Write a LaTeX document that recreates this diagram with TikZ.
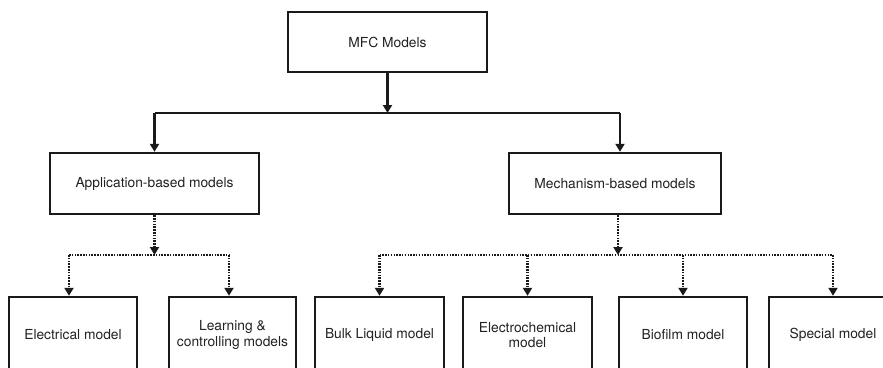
\documentclass[tikz,border=0pt]{standalone}
\usepackage{fontspec}
\setmainfont{TeX Gyre Heros}
\usetikzlibrary{arrows.meta,calc}
\definecolor{ink}{HTML}{1A1A1A}
\definecolor{txt}{HTML}{222222}
\begin{document}
\begin{tikzpicture}[x=1pt,y=-1pt,
  box/.style={draw=ink,line width=2.4pt,fill=white,inner sep=0pt,align=center,
    text=txt,font=\fontsize{13.8}{15.5}\selectfont},
  solidarrow/.style={draw=ink,line width=2.2pt,-{Triangle[width=9pt,length=8pt]}},
  solidline/.style={draw=ink,line width=2.2pt},
  dotline/.style={draw=ink,line width=2.2pt,dash pattern=on 1.5pt off 1.3pt},
  dotarrow/.style={dotline,-{Triangle[width=9pt,length=8pt]}}]
\useasboundingbox (0,0) rectangle (883,367);
\clip (0,0) rectangle (883,367);
% nodes
\node[box,minimum width=199pt,minimum height=60pt] (top) at (387.5,42) {MFC Models};
\node[box,minimum width=209pt,minimum height=61pt] (app) at (154.5,183.5) {Application-based models};
\node[box,minimum width=212pt,minimum height=61pt] (mech) at (615,183.5) {Mechanism-based models};
\node[box,minimum width=128pt,minimum height=76pt] (elec) at (73,335) {Electrical model};
\node[box,minimum width=127pt,minimum height=76pt] (learn) at (232.5,335) {Learning \&\\controlling models};
\node[box,minimum width=129pt,minimum height=76pt] (bulk) at (379.5,335) {Bulk Liquid model};
\node[box,minimum width=129pt,minimum height=76pt] (echem) at (527.5,335) {Electrochemical\\model};
\node[box,minimum width=128pt,minimum height=76pt] (bio) at (683,335) {Biofilm model};
\node[box,minimum width=128pt,minimum height=76pt] (spec) at (833,335) {Special model};
% junction coordinates
\coordinate (j0) at (387.5,113);
\coordinate (jl) at (154.5,113);
\coordinate (jr) at (620,113);
\coordinate (ja) at (154.5,255);
\coordinate (jal) at (69,255);
\coordinate (jar) at (229,255);
\coordinate (jm) at (618,255);
\coordinate (jml) at (379.5,255);
\coordinate (jmr) at (833,255);
% solid connectors
\draw[solidarrow] (top.south) -- (j0);
\draw[solidline] (jl) -- (jr);
\draw[solidarrow] (jl) -- (app.north);
\draw[solidarrow] (jr) -- (jr |- mech.north);
% dotted connectors (application)
\draw[dotarrow] (app.south) -- (ja);
\draw[dotline] (jal) -- (jar);
\draw[dotarrow] (jal) -- (jal |- elec.north);
\draw[dotarrow] (jar) -- (jar |- learn.north);
% dotted connectors (mechanism)
\draw[dotarrow] (jm |- mech.south) -- (jm);
\draw[dotline] (jml) -- (jmr);
\draw[dotarrow] (jml) -- (bulk.north);
\draw[dotarrow] (echem.north |- jml) -- (echem.north);
\draw[dotarrow] (bio.north |- jml) -- (bio.north);
\draw[dotarrow] (jmr) -- (spec.north);
\end{tikzpicture}
\end{document}
